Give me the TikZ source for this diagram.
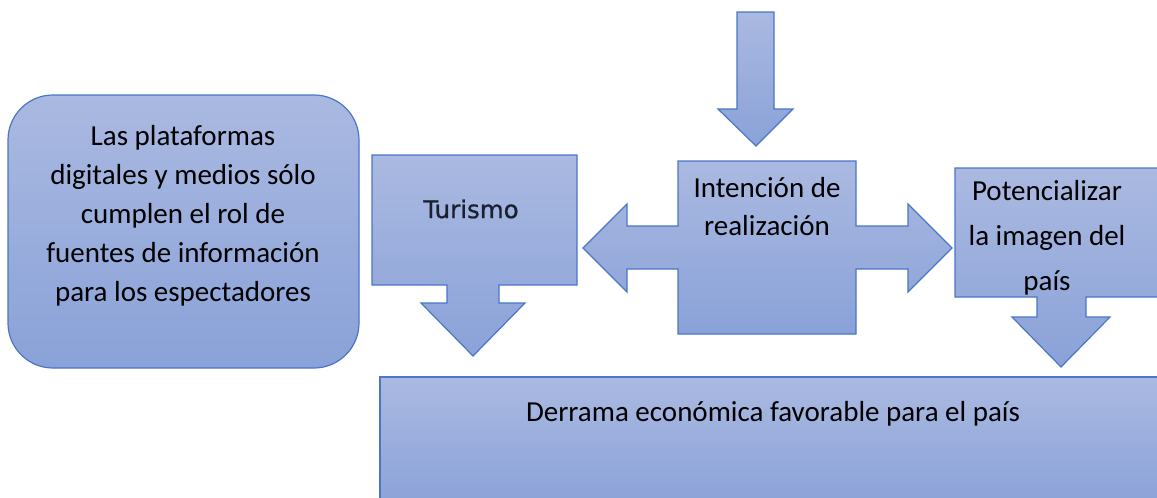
\documentclass[tikz,border=0pt]{standalone}
\usepackage{fontspec}
\setmainfont{Carlito}
\newfontface\boxfont[FakeBold=0.7]{DejaVu Sans}
\usepackage{xcolor}
\usepackage{tikz}
\definecolor{shapeline}{HTML}{4A76C6}
\definecolor{shapetop}{HTML}{AAB9E1}
\definecolor{shapebottom}{HTML}{8AA2D8}
\definecolor{darktext}{HTML}{1A2030}
\tikzstyle{blockshape} = [draw=shapeline, line width=1.2pt, top color=shapetop,
    bottom color=shapebottom, line join=miter]
\tikzstyle{boxtext} = [align=center, inner sep=0pt,
    font=\fontsize{29}{39}\selectfont]

\begin{document}
\begin{tikzpicture}[x=1pt, y=-1pt]
    \clip (0,0) rectangle (1157,498);
    % Place shapes
    \path [blockshape, rounded corners=45pt] (8,95) rectangle (359,368);
    \path [blockshape] (372,155) -- (577,155) -- (577,285) -- (499,285) -- (499,303)
        -- (525,303) -- (473,356) -- (421,303) -- (447,303) -- (447,285) -- (372,285) -- cycle;
    \path [blockshape] (737,12) -- (774,12) -- (774,109) -- (793,109) -- (756,146)
        -- (718,109) -- (737,109) -- cycle;
    \path [blockshape] (678,161) -- (856,161) -- (856,226) -- (908,226) -- (908,204)
        -- (952,248) -- (908,292) -- (908,269) -- (856,269) -- (856,334) -- (678,334)
        -- (678,269) -- (627,269) -- (627,292) -- (583,248) -- (627,204) -- (627,226)
        -- (678,226) -- cycle;
    \path [blockshape] (955,168) -- (1167,168) -- (1167,297) -- (1086,297) -- (1086,317)
        -- (1110,317) -- (1061,367) -- (1012,317) -- (1037,317) -- (1037,297) -- (955,297) -- cycle;
    \path [blockshape] (380,377) rectangle (1167,510);

    % Place nodes
    \node [boxtext] (plataformas) at (183,216) {Las plataformas\\digitales y medios sólo\\cumplen el rol de\\fuentes de información\\para los espectadores};
    \node [inner sep=0pt, text=darktext, font=\boxfont\fontsize{24.5}{28}\selectfont] (turismo) at (471,209) {Turismo};
    \node [boxtext, font=\fontsize{29}{38}\selectfont] (intencion) at (767,207) {Intención de\\realización};
    \node [boxtext, font=\fontsize{29}{45}\selectfont] (potencializar) at (1047,238) {Potencializar\\la imagen del\\país};
    \node [boxtext] (derrama) at (773,414) {Derrama económica favorable para el país};
\end{tikzpicture}
\end{document}
